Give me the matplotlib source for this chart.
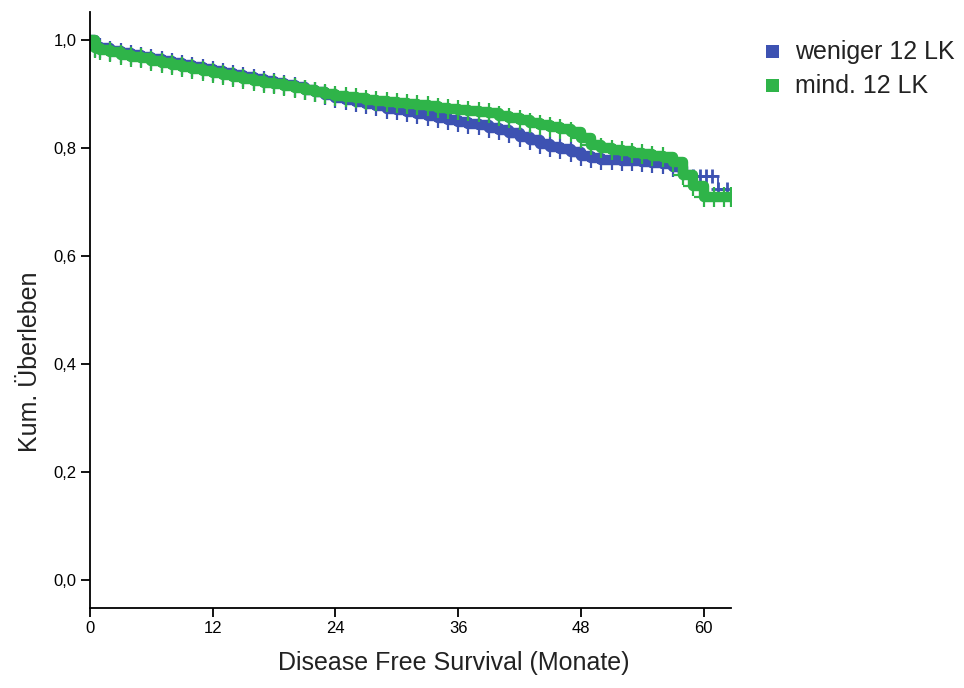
import matplotlib
matplotlib.use("Agg")
import matplotlib.pyplot as plt
from matplotlib.patches import Rectangle

# ---- data ----
months = [0, 0.5, 1, 2, 3, 4, 5, 6, 7, 8, 9, 10, 11, 12, 13, 14, 15, 16, 17, 18, 19,
          20, 21, 22, 23, 24, 25, 26, 27, 28, 29, 30, 31, 32, 33, 34, 35, 36, 37, 38,
          39, 40, 41, 42, 43, 44, 45, 46, 47, 48, 49, 50, 51, 52, 53, 54, 55, 56, 57,
          58, 59, 60, 61, 62, 62.7]

surv_mind12 = [1.0, 0.985, 0.982, 0.977, 0.973, 0.969, 0.966, 0.962, 0.958, 0.954,
               0.950, 0.947, 0.943, 0.939, 0.936, 0.932, 0.928, 0.925, 0.921, 0.918,
               0.914, 0.911, 0.908, 0.904, 0.900, 0.897, 0.894, 0.892, 0.889, 0.887,
               0.885, 0.883, 0.881, 0.879, 0.877, 0.875, 0.873, 0.871, 0.869, 0.867,
               0.864, 0.860, 0.856, 0.851, 0.846, 0.842, 0.839, 0.836, 0.830, 0.818,
               0.806, 0.800, 0.797, 0.794, 0.791, 0.789, 0.786, 0.784, 0.775, 0.750,
               0.730, 0.709, 0.709, 0.709, 0.709]

months_weniger = [0, 0.5, 1, 2, 3, 4, 5, 6, 7, 8, 9, 10, 11, 12, 13, 14, 15, 16, 17, 18,
                  19, 20, 21, 22, 23, 24, 25, 26, 27, 28, 29, 30, 31, 32, 33, 34, 35, 36,
                  37, 38, 39, 40, 41, 42, 43, 44, 45, 46, 47, 48, 49, 50, 51, 52, 53, 54,
                  55, 56, 57, 58, 59, 59.6, 60.2, 60.8, 61.4, 62.3]

surv_weniger12 = [1.0, 0.988, 0.985, 0.980, 0.976, 0.972, 0.969, 0.965, 0.961, 0.957,
                  0.953, 0.950, 0.946, 0.942, 0.939, 0.935, 0.931, 0.928, 0.924, 0.921,
                  0.917, 0.913, 0.908, 0.903, 0.898, 0.893, 0.889, 0.885, 0.881, 0.877,
                  0.873, 0.870, 0.867, 0.863, 0.859, 0.855, 0.851, 0.848, 0.845, 0.842,
                  0.838, 0.833, 0.828, 0.821, 0.814, 0.807, 0.802, 0.798, 0.792, 0.786,
                  0.781, 0.778, 0.777, 0.776, 0.776, 0.774, 0.772, 0.770, 0.765, 0.757,
                  0.748, 0.748, 0.748, 0.748, 0.724, 0.724]

series_labels = ["weniger 12 LK", "mind. 12 LK"]
xticks = [0, 12, 24, 36, 48, 60]
yticks = [0.0, 0.2, 0.4, 0.6, 0.8, 1.0]
ytick_labels = ["0,0", "0,2", "0,4", "0,6", "0,8", "1,0"]

BLUE = "#3d52b2"
GREEN = "#2fb449"

plt.rcParams['font.family'] = ['Liberation Sans', 'DejaVu Sans']

fig = plt.figure(figsize=(9.64, 6.88), dpi=100)
ax = fig.add_axes([0.0934, 0.1163, 0.758 - 0.0934, 0.9826 - 0.1163])

# split index for blue: thick band until ~58 months, thin line afterwards
nb = months_weniger.index(58) + 1

# blue first, green on top
ax.step(months_weniger[:nb], surv_weniger12[:nb], where='post', color=BLUE, lw=7.5)
ax.plot(months_weniger[1:nb], surv_weniger12[1:nb], '+', color=BLUE, ms=14, mew=1.6)
ax.step(months_weniger[nb - 1:], surv_weniger12[nb - 1:], where='post', color=BLUE, lw=1.3)
ax.plot(months_weniger[nb:], surv_weniger12[nb:], '+', color=BLUE, ms=10, mew=2)

ax.step(months, surv_mind12, where='post', color=GREEN, lw=7.5)
ax.plot(months[1:], surv_mind12[1:], '+', color=GREEN, ms=14, mew=1.6)

ax.set_xlim(0, 62.65)
ax.set_ylim(-0.052, 1.052)

for s in ['top', 'right']:
    ax.spines[s].set_visible(False)
for s in ['left', 'bottom']:
    ax.spines[s].set_linewidth(1.3)
    ax.spines[s].set_color('black')

ax.set_xticks(xticks)
ax.set_xticklabels([str(v) for v in xticks])
ax.set_yticks(yticks)
ax.set_yticklabels(ytick_labels)
for lab in ax.get_xticklabels() + ax.get_yticklabels():
    lab.set_fontsize(12)
ax.tick_params(axis='both', direction='out', length=6.5, width=1.3, colors='black', pad=3)

fig.text(0.471, 0.036, "Disease Free Survival (Monate)", ha='center', va='center',
         fontsize=18, color='#222222')
fig.text(0.031, 0.474, "Kum. Überleben", ha='center', va='center', rotation=90,
         fontsize=18, color='#222222')

# legend (manual, to match placement)
W, H = 964.0, 688.0
for i, (lab, col) in enumerate(zip(series_labels, [BLUE, GREEN])):
    yc = [52, 86][i]
    fig.add_artist(Rectangle(((766) / W, 1 - (yc + 6) / H), 13 / W, 13 / H,
                             transform=fig.transFigure, color=col, lw=0))
    fig.text(795 / W, 1 - yc / H, lab, ha='left', va='center', fontsize=18,
             color='#222222')

fig.savefig("out.png", dpi=100)
